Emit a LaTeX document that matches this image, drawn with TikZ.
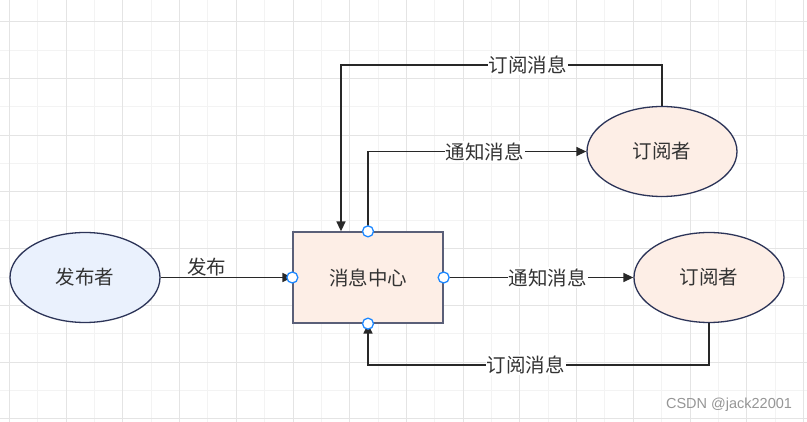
\documentclass[tikz,border=0pt]{standalone}
\usepackage{fontspec}
\newfontfamily\cjk{Noto Sans CJK SC}
\newfontfamily\wmfont{Liberation Sans}
\usetikzlibrary{arrows.meta,shapes.geometric}
\definecolor{gridmajor}{RGB}{228,228,228}
\definecolor{gridminor}{RGB}{243,243,243}
\definecolor{txtgray}{RGB}{51,51,51}
\definecolor{linegray}{RGB}{40,40,40}
\definecolor{navyline}{RGB}{44,52,88}
\definecolor{boxline}{RGB}{90,95,120}
\definecolor{pubfill}{RGB}{234,241,253}
\definecolor{subfill}{RGB}{253,238,230}
\definecolor{handleblue}{RGB}{30,136,255}
\definecolor{wmgray}{RGB}{150,150,150}
\tikzstyle{actor}=[ellipse,draw=navyline,line width=1.3pt,minimum width=150pt,minimum height=90pt,inner sep=0pt,text=txtgray,font=\cjk\fontsize{19.5}{20}\selectfont]
\tikzstyle{hubbox}=[rectangle,draw=boxline,fill=subfill,line width=1.3pt,minimum width=150pt,minimum height=91pt,inner sep=0pt,text=txtgray,font=\cjk\fontsize{19.5}{20}\selectfont]
\tikzstyle{handle}=[circle,draw=handleblue,fill=white,line width=1.3pt,minimum size=11pt,inner sep=0pt]
\tikzstyle{edge}=[draw=linegray,line width=1.5pt,-{Triangle[length=10pt,width=9pt]}]
\tikzstyle{lbl}=[fill=white,inner sep=1pt,text=txtgray,font=\cjk\fontsize{19.5}{20}\selectfont]

\begin{document}
\begin{tikzpicture}[x=1pt,y=-1pt]

    \useasboundingbox (0,0) rectangle (807,422);
    \fill[white] (0,0) rectangle (807,422);

    % background grid
    \foreach \k in {1,3,...,27}
        \draw[gridminor, line width=0.8pt] (9.3+28.36*\k,0) -- (9.3+28.36*\k,422);
    \foreach \k in {1,3,...,13}
        \draw[gridminor, line width=0.8pt] (0,21.7+28.36*\k) -- (807,21.7+28.36*\k);
    \foreach \k in {0,2,...,28}
        \draw[gridmajor, line width=0.8pt] (9.3+28.36*\k,0) -- (9.3+28.36*\k,422);
    \foreach \k in {0,2,...,14}
        \draw[gridmajor, line width=0.8pt] (0,21.7+28.36*\k) -- (807,21.7+28.36*\k);

    % nodes
    \node[actor, fill=pubfill] (pub) at (85,277.5) {发布者};
    \node[hubbox] (hub) at (368,277.5) {消息中心};
    \node[actor, fill=subfill] (subA) at (662,151.5) {订阅者};
    \node[actor, fill=subfill] (subB) at (709,277.5) {订阅者};

    % connectors
    \path[edge] (pub) -- node[lbl, above, pos=0.35] {发布} (hub.west);
    \path[edge] (hub.east) -- node[lbl, pos=0.55] {通知消息} (subB.west);
    \path[edge] (hub.north) |- node[lbl, pos=0.767] {通知消息} (subA.west);
    \path[edge] (subA.north) -- ++(0,-41) -| node[lbl, pos=0.209] {订阅消息} ([xshift=-27pt]hub.north);
    \path[edge] (subB.south) -- ++(0,42) -| node[lbl, pos=0.269] {订阅消息} (hub.south);

    % selection handles
    \foreach \a in {north,south,east,west}
        \node[handle] (h-\a) at (hub.\a) {};

    \node[text=wmgray, font=\wmfont\fontsize{14.5}{15}\selectfont] (mark) at (729,405) {CSDN @jack22001};

\end{tikzpicture}
\end{document}
